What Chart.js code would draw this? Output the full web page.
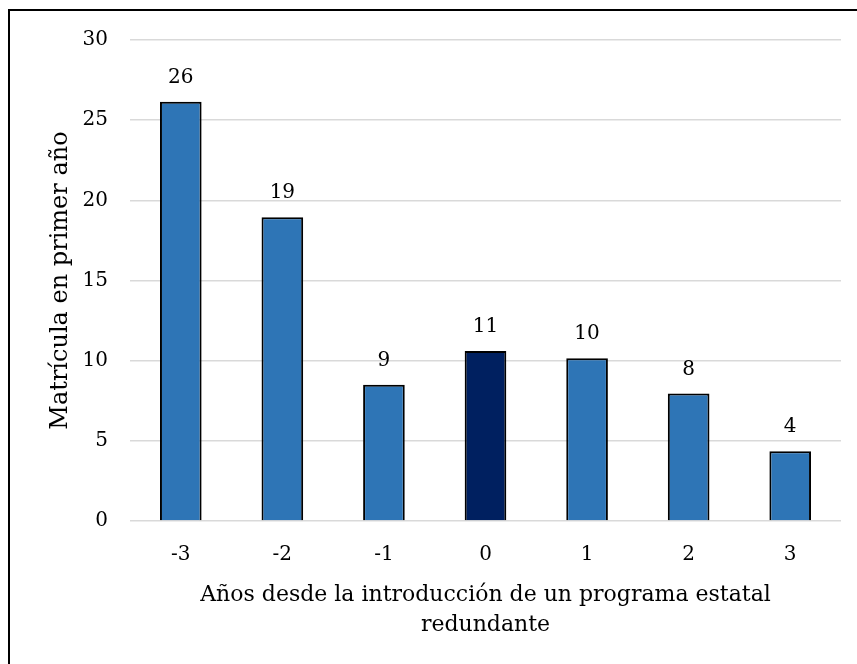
<!DOCTYPE html>
<html>
<head>
<meta charset="utf-8">
<script src="https://cdn.jsdelivr.net/npm/chart.js@4.4.1/dist/chart.umd.min.js"></script>
<style>
  html, body { margin: 0; padding: 0; background: #fff; }
  #wrap { position: relative; width: 857px; height: 664px; overflow: hidden; }
  #frame {
    position: absolute; left: 8px; top: 9px; width: 860px; height: 670px;
    border-left: 2px solid #000; border-top: 2px solid #000;
  }
  #chart { position: absolute; left: 0; top: 0; }
</style>
</head>
<body>
<div id="wrap">
  <div id="frame"></div>
  <canvas id="chart" width="857" height="664"></canvas>
</div>
<script>
// Data
const years = ['-3', '-2', '-1', '0', '1', '2', '3'];
const enrollment = [26.15, 18.95, 8.5, 10.6, 10.15, 7.95, 4.35];
const highlightYear = '0';

const yTicks = [0, 5, 10, 15, 20, 25, 30];

const fontFamily = '"DejaVu Serif", "Liberation Serif", serif';

const barColors = years.map(y => y === highlightYear ? '#002060' : '#2E75B6');

// Value labels on top of bars (rounded like the original)
const valueLabels = {
  id: 'valueLabels',
  afterDatasetsDraw(chart) {
    const ctx = chart.ctx;
    const meta = chart.getDatasetMeta(0);
    ctx.save();
    ctx.font = '20px ' + fontFamily;
    ctx.fillStyle = '#000';
    ctx.textAlign = 'center';
    ctx.textBaseline = 'middle';
    meta.data.forEach((bar, i) => {
      const v = chart.data.datasets[0].data[i];
      ctx.fillText(Math.round(v), bar.x, bar.y - 24);
    });
    ctx.restore();
  }
};

new Chart(document.getElementById('chart'), {
  type: 'bar',
  data: {
    labels: years,
    datasets: [{
      data: enrollment,
      backgroundColor: barColors,
      borderColor: '#000',
      borderWidth: 2,
      borderSkipped: 'bottom',
      categoryPercentage: 1.0,
      barPercentage: 0.41
    }]
  },
  options: {
    responsive: false,
    animation: false,
    layout: { padding: { left: 46, right: 16, top: 40, bottom: 24 } },
    plugins: {
      legend: { display: false },
      tooltip: { enabled: false }
    },
    scales: {
      x: {
        grid: { display: false },
        border: { display: false },
        ticks: {
          color: '#000',
          font: { family: fontFamily, size: 20 },
          padding: 14
        },
        title: {
          display: true,
          text: ['Años desde la introducción de un programa estatal', 'redundante'],
          color: '#000',
          font: { family: fontFamily, size: 22, lineHeight: 1.36 },
          padding: { top: 4, bottom: 0 }
        },
        afterFit(scale) { scale.height = 664 - 521 - 24; }
      },
      y: {
        min: 0,
        max: 30,
        afterBuildTicks(scale) { scale.ticks = yTicks.map(v => ({ value: v })); },
        grid: { color: '#d9d9d9', lineWidth: 1.5, drawTicks: false },
        border: { display: false },
        ticks: {
          color: '#000',
          font: { family: fontFamily, size: 20 },
          padding: 22
        },
        title: {
          display: true,
          text: 'Matrícula en primer año',
          color: '#000',
          font: { family: fontFamily, size: 24 },
          padding: { top: 0, bottom: 0 }
        },
        afterFit(scale) { scale.width = 130 - 46; }
      }
    }
  },
  plugins: [valueLabels]
});
</script>
</body>
</html>
